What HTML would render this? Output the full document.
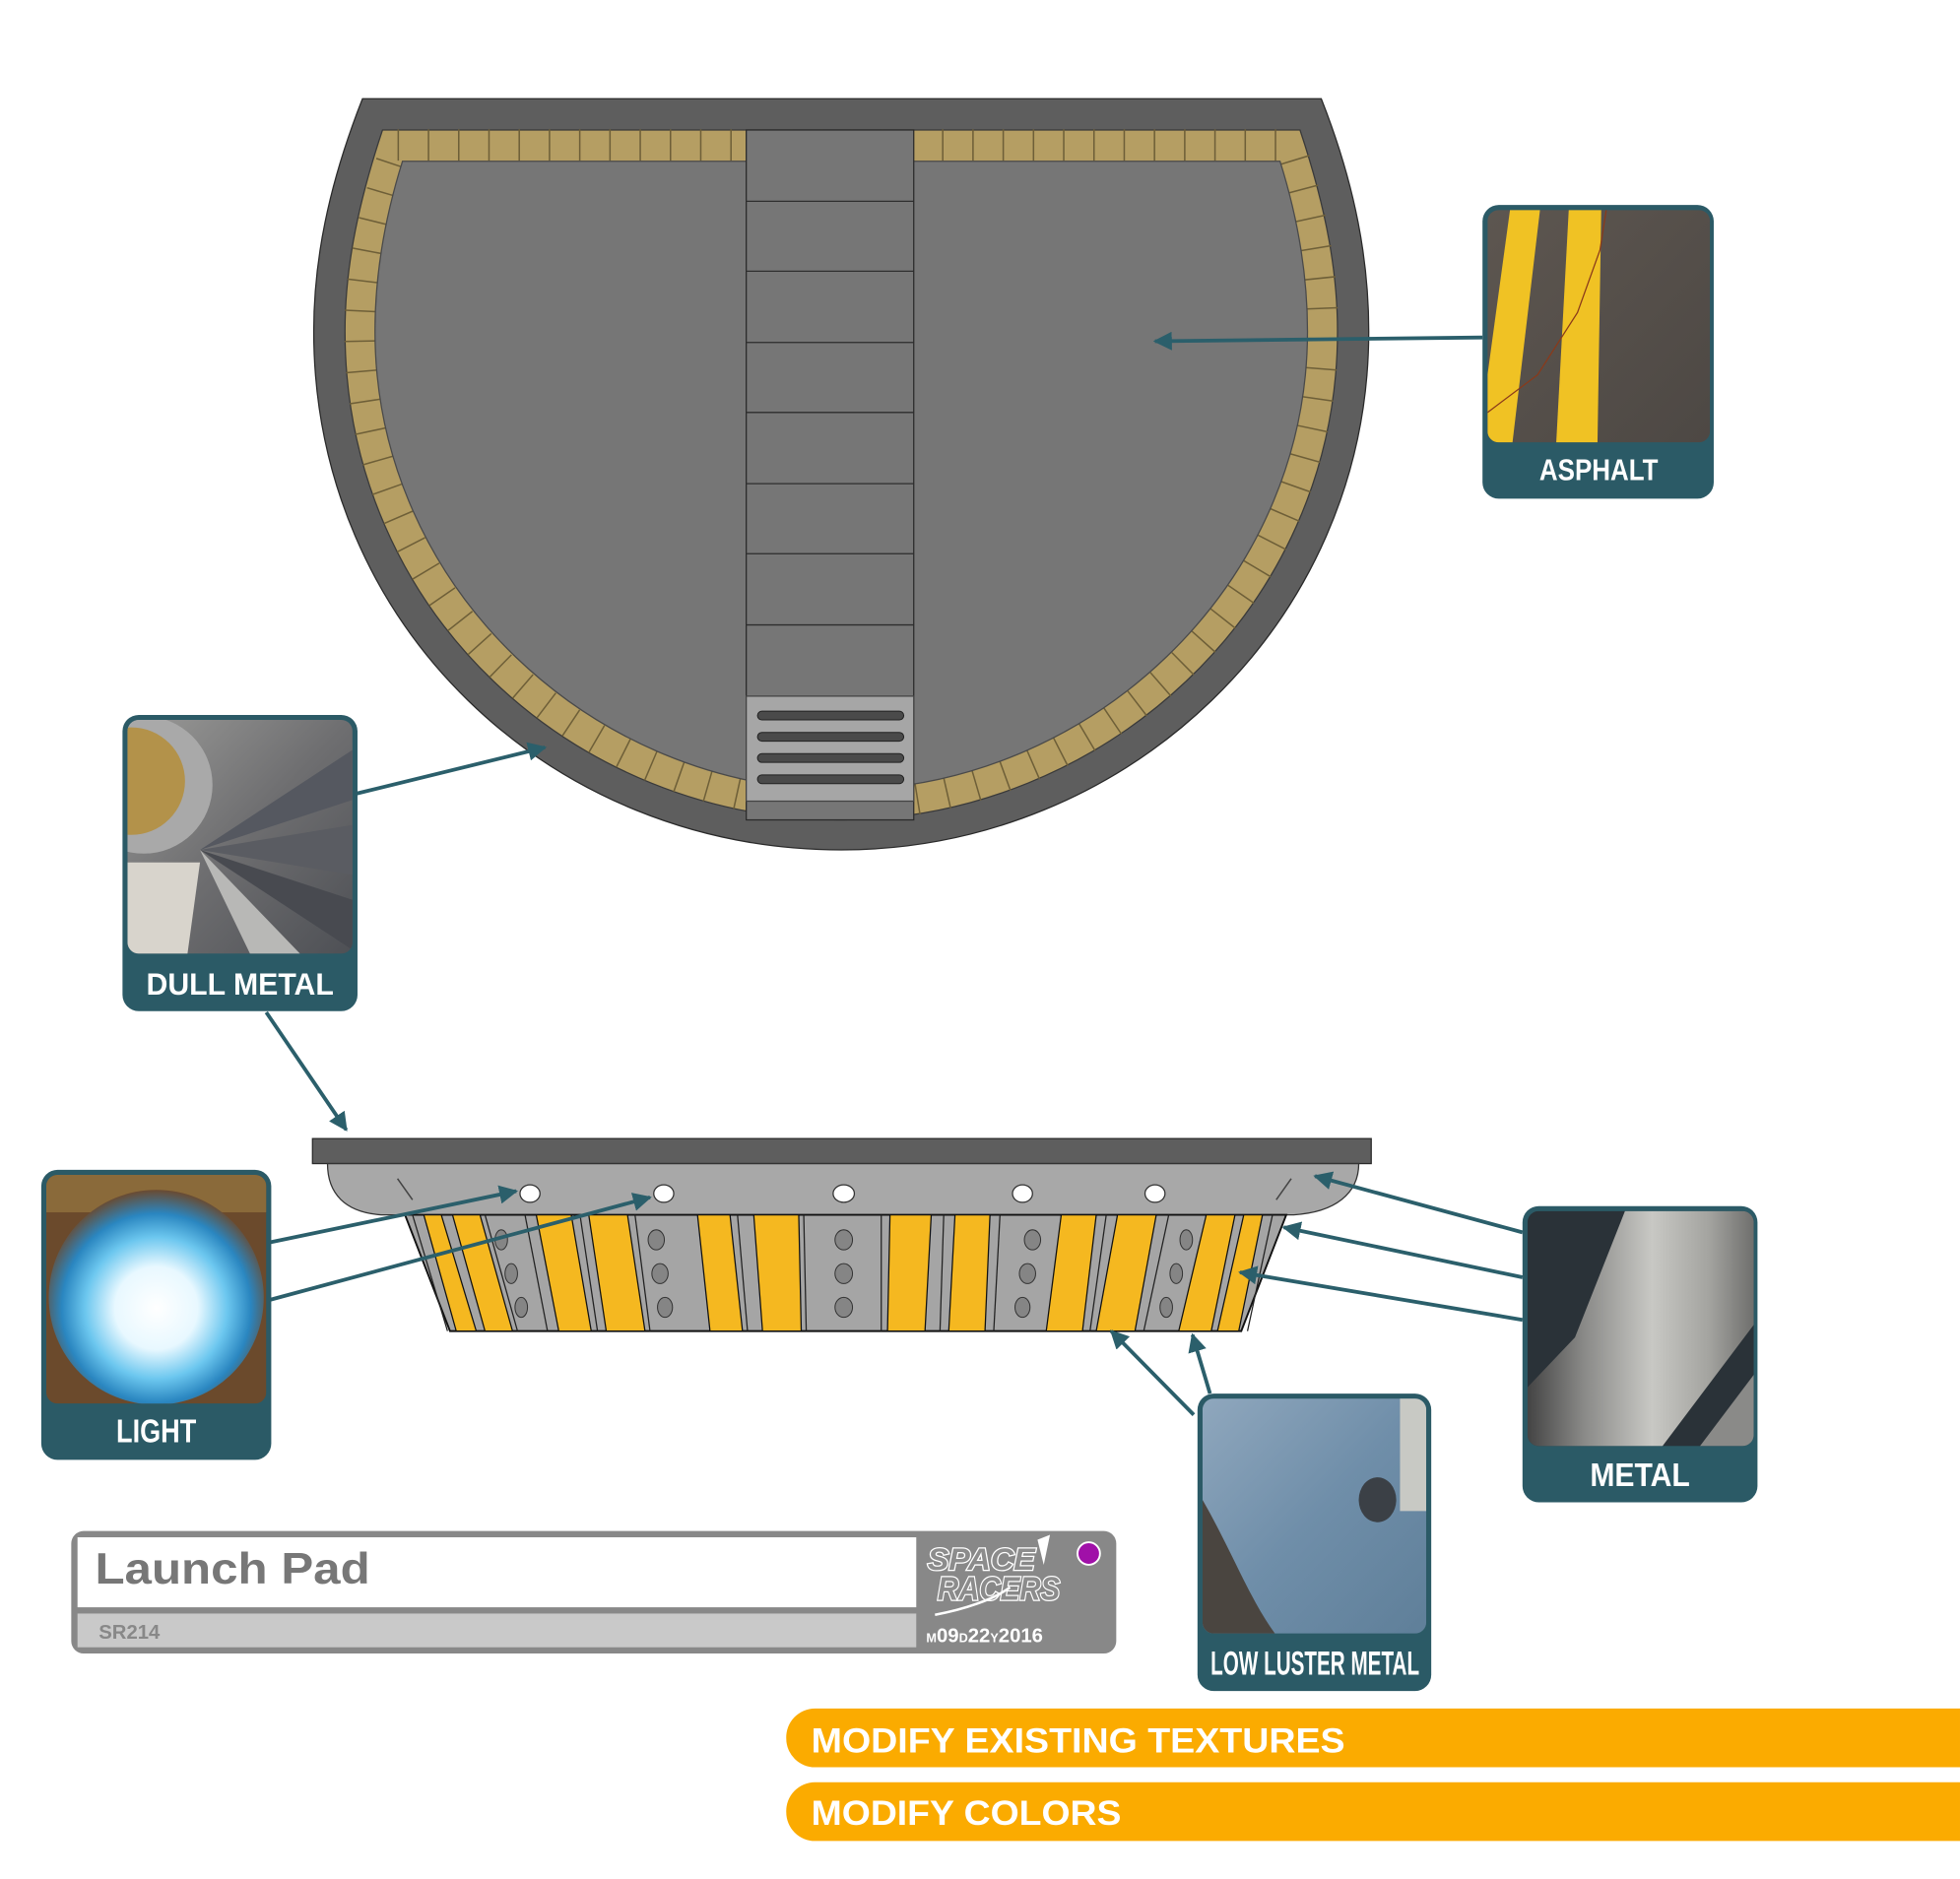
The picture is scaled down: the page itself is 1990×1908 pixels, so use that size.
<!DOCTYPE html>
<html><head><meta charset="utf-8"><style>
html,body{margin:0;padding:0;background:#fff;}
svg{display:block}
text{font-family:"Liberation Sans",sans-serif;}
</style></head><body>
<svg width="1990" height="1908" viewBox="0 0 1568 1503.4" xmlns="http://www.w3.org/2000/svg">
<defs>
<marker id="ah" viewBox="0 0 10 10" refX="9" refY="5" markerWidth="5" markerHeight="5" orient="auto-start-reverse"><path d="M0,0 L10,5 L0,10 Z" fill="#2b5f6b"/></marker>
<linearGradient id="gAsph" x1="0" y1="0" x2="1" y2="1"><stop offset="0" stop-color="#5d5650"/><stop offset="1" stop-color="#4d4844"/></linearGradient>
<radialGradient id="gLight" cx="0.5" cy="0.55" r="0.55"><stop offset="0" stop-color="#ffffff"/><stop offset="0.35" stop-color="#e8f8ff"/><stop offset="0.6" stop-color="#6cc7ef"/><stop offset="0.8" stop-color="#2a86c0"/><stop offset="1" stop-color="#6a4a30"/></radialGradient>
<linearGradient id="gMetal" x1="0" y1="0" x2="1" y2="0"><stop offset="0" stop-color="#444"/><stop offset="0.25" stop-color="#8a8a88"/><stop offset="0.55" stop-color="#c8c8c4"/><stop offset="0.8" stop-color="#a4a4a0"/><stop offset="1" stop-color="#6f6f6d"/></linearGradient>
<linearGradient id="gLow" x1="0" y1="0" x2="1" y2="1"><stop offset="0" stop-color="#8fa7bd"/><stop offset="0.5" stop-color="#6f8ea9"/><stop offset="1" stop-color="#5f7f99"/></linearGradient>
<linearGradient id="gFan" x1="0" y1="0" x2="1" y2="1"><stop offset="0" stop-color="#9a9a98"/><stop offset="0.5" stop-color="#6e6e70"/><stop offset="1" stop-color="#4e5055"/></linearGradient>
<clipPath id="cA"><rect x="1190" y="168" width="178" height="186" rx="9"/></clipPath>
<clipPath id="cD"><rect x="102" y="576" width="180" height="187" rx="9"/></clipPath>
<clipPath id="cL"><rect x="37" y="940" width="176" height="183" rx="9"/></clipPath>
<clipPath id="cM"><rect x="1222" y="969" width="181" height="188" rx="9"/></clipPath>
<clipPath id="cW"><rect x="962" y="1119" width="179" height="188" rx="9"/></clipPath>
</defs>

<path d="M290,79 L1057,79 C1085,150 1095,210 1095,265 C1095,500 900,680 673,680 C440,680 251,500 251,265 C251,210 262,150 290,79 Z" fill="#5e5e5e" stroke="#2a2a2a" stroke-width="1"/>
<path d="M306,104 L1040,104 C1062,170 1070,220 1070,265 C1070,490 880,656 673,656 C460,656 276,490 276,265 C276,220 284,170 306,104 Z" fill="#b59e63" stroke="#3a3a3a" stroke-width="1"/>
<path d="M318,116 L1032,116 C1052,178 1058,222 1058,265 C1058,482 875,644 673,644 C468,644 288,482 288,265 C288,222 296,178 318,116 Z" fill="none" stroke="#6e5f38" stroke-width="25" stroke-dasharray="1.2 23"/>
<path d="M322,129 L1024,129 C1040,180 1046,225 1046,265 C1046,470 870,632 673,632 C475,632 300,470 300,265 C300,225 306,180 322,129 Z" fill="#767676" stroke="#4a4a4a" stroke-width="1"/>
<rect x="597" y="104" width="134" height="552" fill="#767676" stroke="#2a2a2a" stroke-width="1"/>
<g stroke="#2e2e2e" stroke-width="1">
<line x1="597" y1="161" x2="731" y2="161"/><line x1="597" y1="217" x2="731" y2="217"/><line x1="597" y1="274" x2="731" y2="274"/><line x1="597" y1="330" x2="731" y2="330"/><line x1="597" y1="387" x2="731" y2="387"/><line x1="597" y1="443" x2="731" y2="443"/><line x1="597" y1="500" x2="731" y2="500"/>
</g>
<rect x="597" y="557" width="134" height="84" fill="#a6a6a6" stroke="#444" stroke-width="1"/>
<g fill="#4a4a4a" stroke="#222" stroke-width="0.8">
<rect x="606" y="569" width="117" height="7" rx="3.5"/><rect x="606" y="586" width="117" height="7" rx="3.5"/><rect x="606" y="603" width="117" height="7" rx="3.5"/><rect x="606" y="620" width="117" height="7" rx="3.5"/>
</g>

<rect x="250" y="911" width="847" height="20" fill="#5e5e5e" stroke="#2a2a2a" stroke-width="1"/>
<path d="M262,931 L1087,931 C1087,955 1068,970 1035,972 L305,972 C276,970 262,955 262,931 Z" fill="#a8a8a8" stroke="#333" stroke-width="1"/>
<polygon points="324,972 1029,972 993,1065 360,1065" fill="#a5a5a5" stroke="#111" stroke-width="1.5"/>
<g fill="#f5b820" stroke="#111" stroke-width="1">
<polygon points="339,972 353,972 381,1065 365,1065"/>
<polygon points="362,972 384,972 410,1065 388,1065"/>
<polygon points="429,972 457,972 473,1065 447,1065"/>
<polygon points="471,972 502,972 516,1065 485,1065"/>
<polygon points="558,972 584,972 594,1065 568,1065"/>
<polygon points="603,972 639,972 641,1065 610,1065"/>
<polygon points="712,972 745,972 740,1065 710,1065"/>
<polygon points="764,972 792,972 788,1065 759,1065"/>
<polygon points="849,972 877,972 866,1065 837,1065"/>
<polygon points="894,972 925,972 908,1065 877,1065"/>
<polygon points="965,972 988,972 969,1065 943,1065"/>
<polygon points="995,972 1010,972 991,1065 974,1065"/>
</g>
<g stroke="#222" stroke-width="1">
<line x1="330" y1="972" x2="358" y2="1065"/><line x1="388" y1="972" x2="414" y2="1065"/><line x1="420" y1="972" x2="438" y2="1065"/><line x1="464" y1="972" x2="478" y2="1065"/><line x1="508" y1="972" x2="520" y2="1065"/><line x1="590" y1="972" x2="598" y2="1065"/><line x1="643" y1="972" x2="645" y2="1065"/><line x1="705" y1="972" x2="705" y2="1065"/><line x1="755" y1="972" x2="752" y2="1065"/><line x1="800" y1="972" x2="795" y2="1065"/><line x1="885" y1="972" x2="872" y2="1065"/><line x1="935" y1="972" x2="915" y2="1065"/><line x1="1018" y1="972" x2="998" y2="1065"/>
</g>
<g fill="#858585" stroke="#333" stroke-width="0.8">
<ellipse cx="401" cy="992" rx="5" ry="8"/><ellipse cx="409" cy="1019" rx="5" ry="8"/><ellipse cx="417" cy="1046" rx="5" ry="8"/>
<ellipse cx="525" cy="992" rx="6.5" ry="8"/><ellipse cx="528" cy="1019" rx="6.5" ry="8"/><ellipse cx="532" cy="1046" rx="6" ry="8"/>
<ellipse cx="675" cy="992" rx="7" ry="8"/><ellipse cx="675" cy="1019" rx="7" ry="8"/><ellipse cx="675" cy="1046" rx="7" ry="8"/>
<ellipse cx="826" cy="992" rx="6.5" ry="8"/><ellipse cx="822" cy="1019" rx="6.5" ry="8"/><ellipse cx="818" cy="1046" rx="6" ry="8"/>
<ellipse cx="949" cy="992" rx="5" ry="8"/><ellipse cx="941" cy="1019" rx="5" ry="8"/><ellipse cx="933" cy="1046" rx="5" ry="8"/>
</g>
<g fill="#fff" stroke="#333" stroke-width="1">
<ellipse cx="424" cy="955" rx="8" ry="7"/><ellipse cx="531" cy="955" rx="8" ry="7"/><ellipse cx="675" cy="955" rx="8.5" ry="7"/><ellipse cx="818" cy="955" rx="8" ry="7"/><ellipse cx="924" cy="955" rx="8" ry="7"/>
</g>
<g stroke="#444" stroke-width="1.2"><line x1="318" y1="943" x2="330" y2="960"/><line x1="1033" y1="943" x2="1021" y2="960"/></g>

<g stroke="#2b5f6b" stroke-width="3" fill="none" marker-end="url(#ah)">
<line x1="1186" y1="270" x2="924" y2="273"/>
<line x1="285" y1="635" x2="436" y2="598"/>
<line x1="213" y1="810" x2="277" y2="904"/>
<line x1="216" y1="994" x2="413" y2="953"/>
<line x1="216" y1="1040" x2="520" y2="958"/>
<line x1="1218" y1="986" x2="1052" y2="941"/>
<line x1="1218" y1="1022" x2="1027" y2="982"/>
<line x1="1218" y1="1056" x2="992" y2="1018"/>
<line x1="955" y1="1132" x2="889" y2="1065"/>
<line x1="968" y1="1115" x2="954" y2="1068"/>
</g>

<rect x="1186" y="164" width="185" height="235" rx="13" fill="#2b5a66"/>
<g clip-path="url(#cA)">
<rect x="1190" y="168" width="178" height="186" fill="url(#gAsph)"/>
<polygon points="1208,168 1232,168 1210,354 1190,354 1190,300" fill="#f0c224"/>
<polygon points="1255,168 1281,168 1278,354 1245,354" fill="#f0c224"/>
<path d="M1190,330 L1230,300 L1262,250 L1280,200 L1285,168" stroke="#8a3a1a" stroke-width="1" fill="none"/>
</g>
<text x="1279" y="384" font-size="24" font-weight="bold" fill="#fff" text-anchor="middle" textLength="95" lengthAdjust="spacingAndGlyphs">ASPHALT</text>

<rect x="98" y="572" width="188" height="237" rx="13" fill="#2b5a66"/>
<g clip-path="url(#cD)">
<rect x="102" y="576" width="180" height="187" fill="url(#gFan)"/>
<path d="M160,680 L282,600 L282,640 Z" fill="#555860"/>
<path d="M160,680 L282,660 L282,700 Z" fill="#5a5c62"/>
<path d="M160,680 L282,720 L282,760 Z" fill="#484a50"/>
<path d="M160,680 L200,763 L240,763 Z" fill="#b8b8b6"/>
<circle cx="115" cy="628" r="55" fill="#a9a9a9"/>
<circle cx="105" cy="625" r="43" fill="#b3924a"/>
<path d="M102,690 L160,690 L150,763 L102,763 Z" fill="#d8d4cc"/>
</g>
<text x="192" y="796" font-size="25" font-weight="bold" fill="#fff" text-anchor="middle" textLength="150" lengthAdjust="spacingAndGlyphs">DULL  METAL</text>

<rect x="33" y="936" width="184" height="232" rx="13" fill="#2b5a66"/>
<g clip-path="url(#cL)">
<rect x="37" y="940" width="176" height="183" fill="#6b4a2c"/>
<rect x="37" y="940" width="176" height="30" fill="#8a6a3a"/>
<circle cx="125" cy="1038" r="86" fill="url(#gLight)"/>
</g>
<text x="125" y="1154" font-size="26" font-weight="bold" fill="#fff" text-anchor="middle" textLength="64" lengthAdjust="spacingAndGlyphs">LIGHT</text>

<rect x="1218" y="965" width="188" height="237" rx="13" fill="#2b5a66"/>
<g clip-path="url(#cM)">
<rect x="1222" y="969" width="181" height="188" fill="#2a3238"/>
<path d="M1300,969 L1403,969 L1403,1060 L1330,1157 L1222,1157 L1222,1110 L1260,1070 Z" fill="url(#gMetal)"/>
<path d="M1360,1157 L1403,1100 L1403,1157 Z" fill="#8a8a88"/>
</g>
<text x="1312" y="1189" font-size="26" font-weight="bold" fill="#fff" text-anchor="middle" textLength="80" lengthAdjust="spacingAndGlyphs">METAL</text>

<rect x="958" y="1115" width="187" height="238" rx="13" fill="#2b5a66"/>
<g clip-path="url(#cW)">
<rect x="962" y="1119" width="179" height="188" fill="url(#gLow)"/>
<rect x="1120" y="1119" width="21" height="90" fill="#c8c9c4"/>
<path d="M962,1200 C985,1240 1000,1280 1020,1307 L962,1307 Z" fill="#4a4540"/>
<ellipse cx="1102" cy="1200" rx="15" ry="18" fill="#3b4046"/>
</g>
<text x="1052" y="1340" font-size="27" font-weight="bold" fill="#fff" text-anchor="middle" textLength="167" lengthAdjust="spacingAndGlyphs">LOW LUSTER METAL</text>

<rect x="57" y="1225" width="836" height="98" rx="10" fill="#888"/>
<rect x="62" y="1230" width="671" height="56" fill="#fff"/>
<rect x="62" y="1291" width="671" height="27" fill="#c9c9c9"/>
<text x="76" y="1267" font-size="35" font-weight="bold" fill="#777" textLength="220" lengthAdjust="spacingAndGlyphs">Launch Pad</text>
<text x="79" y="1311" font-size="16" font-weight="bold" fill="#888">SR214</text>
<text x="742" y="1256" font-size="25" font-weight="bold" font-style="italic" fill="#8c8c8c" stroke="#fff" stroke-width="2" paint-order="stroke" textLength="86" lengthAdjust="spacingAndGlyphs">SPACE</text>
<text x="750" y="1280" font-size="26" font-weight="bold" font-style="italic" fill="#8c8c8c" stroke="#fff" stroke-width="2" paint-order="stroke" textLength="98" lengthAdjust="spacingAndGlyphs">RACERS</text>
<path d="M830,1232 L840,1228 L835,1252 Z" fill="#fff"/>
<path d="M748,1292 C770,1288 795,1280 808,1270" stroke="#fff" stroke-width="2" fill="none"/>
<circle cx="871" cy="1243" r="9" fill="#a010a8" stroke="#fff" stroke-width="1.5"/>
<text x="741" y="1314" font-size="16" font-weight="bold" fill="#fff"><tspan font-size="10">M</tspan>09<tspan font-size="10">D</tspan>22<tspan font-size="10">Y</tspan>2016</text>

<path d="M652,1367 L1568,1367 L1568,1414 L652,1414 A23,23 0 0 1 629,1391 A23,23 0 0 1 652,1367 Z" fill="#fbab00"/>
<path d="M652,1426 L1568,1426 L1568,1473 L652,1473 A23,23 0 0 1 629,1450 A23,23 0 0 1 652,1426 Z" fill="#fbab00"/>
<text x="649" y="1402" font-size="28" font-weight="bold" fill="#fff" textLength="427" lengthAdjust="spacingAndGlyphs">MODIFY EXISTING TEXTURES</text>
<text x="649" y="1460" font-size="28" font-weight="bold" fill="#fff" textLength="248" lengthAdjust="spacingAndGlyphs">MODIFY COLORS</text>
</svg>
</body></html>
